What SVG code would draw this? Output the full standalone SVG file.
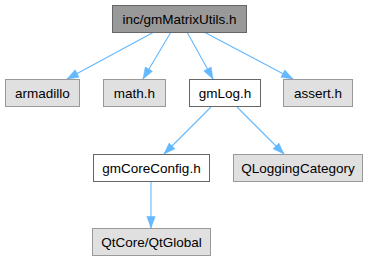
<svg xmlns="http://www.w3.org/2000/svg" width="368" height="261" viewBox="0 0 368 261">
<style>
.n rect{stroke-width:1}
.g rect{fill:#e0e0e0;stroke:#999999}
.w rect{fill:#ffffff;stroke:#666666}
.m rect{fill:#999999;stroke:#666666}
text{font-family:"Liberation Sans",Arial,sans-serif;font-size:13.5px;text-anchor:middle;fill:#000}
.e line{stroke:#63b8ff;stroke-width:1.1}
</style>
<defs>
<marker id="a" viewBox="0 0 12 10" refX="12" refY="5" markerWidth="12" markerHeight="10" markerUnits="userSpaceOnUse" orient="auto">
<path d="M0.5,0.8 L12,5 L0.5,9.2 Z" fill="#63b8ff" stroke="#63b8ff" stroke-width="0.5"/>
</marker>
</defs>
<rect width="368" height="261" fill="#ffffff"/>
<g class="e">
<line x1="154" y1="32" x2="67" y2="79" marker-end="url(#a)"/>
<line x1="171" y1="32" x2="143" y2="79" marker-end="url(#a)"/>
<line x1="187" y1="32" x2="213" y2="79" marker-end="url(#a)"/>
<line x1="204" y1="32" x2="293" y2="79" marker-end="url(#a)"/>
<line x1="211" y1="107" x2="164" y2="154" marker-end="url(#a)"/>
<line x1="237" y1="107" x2="284" y2="154" marker-end="url(#a)"/>
<line x1="151" y1="181" x2="151" y2="228" marker-end="url(#a)"/>
</g>
<g id="node1" class="n m"><rect x="112.5" y="5.5" width="134" height="27"/><text x="179.5" y="23.5">inc/gmMatrixUtils.h</text></g>
<g id="node2" class="n g"><rect x="5.5" y="79.5" width="74" height="27"/><text x="42.5" y="97.5">armadillo</text></g>
<g id="node3" class="n g"><rect x="103.5" y="79.5" width="62" height="27"/><text x="134.5" y="97.5">math.h</text></g>
<g id="node4" class="n w"><rect x="189.5" y="79.5" width="71" height="27"/><text x="225" y="97.5">gmLog.h</text></g>
<g id="node5" class="n g"><rect x="283.5" y="79.5" width="69" height="27"/><text x="318" y="97.5">assert.h</text></g>
<g id="node6" class="n w"><rect x="93.5" y="154.5" width="116" height="27"/><text x="151.5" y="172.5">gmCoreConfig.h</text></g>
<g id="node7" class="n g"><rect x="233.5" y="154.5" width="129" height="27"/><text x="298" y="172.5">QLoggingCategory</text></g>
<g id="node8" class="n g"><rect x="92.5" y="228.5" width="118" height="27"/><text x="151.5" y="246.5">QtCore/QtGlobal</text></g>
</svg>
